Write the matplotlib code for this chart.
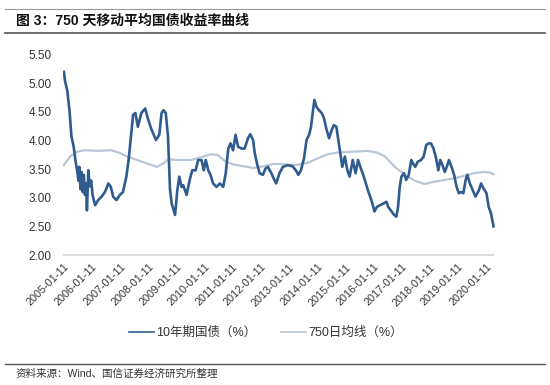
import matplotlib
matplotlib.use("Agg")
import matplotlib.pyplot as plt
from matplotlib.lines import Line2D

plt.rcParams['font.family'] = ['Liberation Sans', 'Noto Sans CJK SC', 'DejaVu Sans']

title = "图 3：750 天移动平均国债收益率曲线"
source = "资料来源：Wind、国信证券经济研究所整理"
series_names = ["10年期国债（%）", "750日均线（%）"]
tick_years = list(range(2005, 2021))
tick_labels = [f"{y}-01-11" for y in tick_years]

# 10-year yield (decimal year, %)
y10_t = [2005.03, 2005.08, 2005.15, 2005.23, 2005.30, 2005.38, 2005.44, 2005.50,
         2005.55, 2005.58, 2005.62, 2005.66, 2005.70, 2005.74, 2005.78, 2005.82,
         2005.85, 2005.90, 2005.95, 2006.00, 2006.05, 2006.14, 2006.25, 2006.37,
         2006.49, 2006.61, 2006.70, 2006.78, 2006.90, 2007.02, 2007.13, 2007.25,
         2007.33, 2007.40, 2007.49, 2007.57, 2007.66, 2007.78, 2007.92, 2008.01,
         2008.13, 2008.30, 2008.42, 2008.50, 2008.57, 2008.65, 2008.73, 2008.76,
         2008.80, 2008.86, 2008.98, 2009.06, 2009.13, 2009.21, 2009.27, 2009.39,
         2009.50, 2009.59, 2009.71, 2009.80, 2009.92, 2010.00, 2010.07, 2010.16,
         2010.24, 2010.33, 2010.45, 2010.57, 2010.69, 2010.78, 2010.87, 2010.95,
         2011.04, 2011.13, 2011.22, 2011.34, 2011.45, 2011.57, 2011.65, 2011.75,
         2011.81, 2011.89, 2011.98, 2012.10, 2012.19, 2012.28, 2012.40, 2012.48,
         2012.57, 2012.69, 2012.81, 2012.98, 2013.15, 2013.27, 2013.36, 2013.45,
         2013.56, 2013.65, 2013.74, 2013.81, 2013.88, 2013.93, 2014.00, 2014.09,
         2014.19, 2014.27, 2014.35, 2014.45, 2014.54, 2014.62, 2014.71, 2014.78,
         2014.86, 2014.92, 2015.01, 2015.10, 2015.18, 2015.29, 2015.39, 2015.48,
         2015.56, 2015.64, 2015.74, 2015.83, 2015.91, 2015.99, 2016.06, 2016.15,
         2016.26, 2016.38, 2016.49, 2016.55, 2016.67, 2016.76, 2016.84, 2016.90,
         2016.96, 2017.02, 2017.11, 2017.19, 2017.28, 2017.37, 2017.43, 2017.51,
         2017.60, 2017.72, 2017.81, 2017.90, 2017.98, 2018.07, 2018.16, 2018.25,
         2018.33, 2018.40, 2018.48, 2018.56, 2018.63, 2018.71, 2018.80, 2018.89,
         2018.98, 2019.06, 2019.14, 2019.22, 2019.30, 2019.36, 2019.45, 2019.53,
         2019.65, 2019.77, 2019.85, 2019.94, 2020.04, 2020.12, 2020.20, 2020.29]
y10_v = [5.20, 5.02, 4.88, 4.53, 4.07, 3.89, 3.66, 3.48,
         3.30, 3.54, 3.15, 3.45, 3.10, 3.40, 3.05, 3.25,
         2.78, 3.48, 3.20, 3.30, 3.05, 2.87, 2.96, 3.02,
         3.10, 3.25, 3.19, 3.02, 2.96, 3.05, 3.10, 3.37,
         3.66, 4.01, 4.45, 4.48, 4.24, 4.48, 4.56, 4.39,
         4.21, 4.01, 4.10, 4.48, 4.53, 4.48, 4.07, 3.66,
         3.15, 2.90, 2.70, 3.13, 3.37, 3.19, 3.22, 3.05,
         3.31, 3.48, 3.48, 3.66, 3.66, 3.48, 3.66, 3.48,
         3.40, 3.25, 3.19, 3.25, 3.19, 3.43, 3.86, 3.95,
         3.83, 4.10, 3.89, 3.86, 3.86, 4.04, 4.11, 4.01,
         3.78, 3.60, 3.43, 3.40, 3.51, 3.54, 3.43, 3.34,
         3.25, 3.43, 3.54, 3.57, 3.55, 3.48, 3.40, 3.48,
         3.69, 4.01, 4.10, 4.24, 4.53, 4.71, 4.59, 4.53,
         4.48, 4.39, 4.21, 4.04, 4.18, 4.27, 4.24, 4.01,
         3.75, 3.54, 3.72, 3.48, 3.37, 3.66, 3.43, 3.66,
         3.54, 3.43, 3.28, 3.13, 3.02, 2.90, 2.76, 2.84,
         2.87, 2.90, 2.93, 2.84, 2.76, 2.70, 2.67, 2.84,
         3.19, 3.37, 3.43, 3.31, 3.40, 3.66, 3.60, 3.54,
         3.63, 3.66, 3.72, 3.92, 3.95, 3.95, 3.86, 3.69,
         3.48, 3.66, 3.57, 3.45, 3.54, 3.66, 3.54, 3.40,
         3.19, 3.08, 3.10, 3.08, 3.31, 3.40, 3.25, 3.16,
         3.02, 3.13, 3.25, 3.16, 3.08, 2.84, 2.73, 2.50]

# 750-day moving average (decimal year, %)
ma_t = [2005.03, 2005.25, 2005.48, 2005.77, 2006.24, 2006.70, 2006.99, 2007.28,
        2007.63, 2007.98, 2008.33, 2008.56, 2008.74, 2009.09, 2009.55, 2009.90,
        2010.25, 2010.49, 2010.78, 2011.07, 2011.42, 2011.77, 2012.12, 2012.47,
        2012.76, 2013.23, 2013.70, 2014.05, 2014.40, 2014.75, 2015.10, 2015.50,
        2015.80, 2016.15, 2016.44, 2016.79, 2017.14, 2017.49, 2017.84, 2018.19,
        2018.54, 2018.89, 2019.24, 2019.59, 2019.94, 2020.17, 2020.29]
ma_v = [3.57, 3.72, 3.80, 3.83, 3.82, 3.83, 3.79, 3.72,
        3.66, 3.60, 3.54, 3.60, 3.67, 3.66, 3.66, 3.71,
        3.76, 3.75, 3.63, 3.58, 3.55, 3.52, 3.55, 3.59,
        3.59, 3.57, 3.61, 3.69, 3.76, 3.79, 3.80, 3.81,
        3.82, 3.79, 3.72, 3.54, 3.40, 3.30, 3.24, 3.28,
        3.31, 3.34, 3.38, 3.43, 3.45, 3.44, 3.41]

fig = plt.figure(figsize=(5.5, 3.85), dpi=100)
W, H = 550, 385
ax = fig.add_axes([63 / W, 1 - 255 / H, (498 - 63) / W, (255 - 54.7) / H])

ax.plot(ma_t, ma_v, color="#b9c6d6", lw=1.6, zorder=2)
ax.plot(y10_t, y10_v, color="#2f5b8e", lw=1.9, zorder=3)

ax.set_ylim(2.0, 5.5)
ax.set_yticks([2.0, 2.5, 3.0, 3.5, 4.0, 4.5, 5.0, 5.5])
ax.set_yticklabels([f"{v:.2f}" for v in ax.get_yticks()], fontsize=8.5, color="#333333")
ax.set_xlim(2005.0, 2020.45)
ax.set_xticks([y + 0.03 for y in tick_years])
ax.set_xticklabels(tick_labels, rotation=45, ha="right", rotation_mode="anchor",
                   fontsize=7.8, color="#333333")
ax.tick_params(length=0, pad=5)
ax.tick_params(axis="y", pad=8)
for s in ["top", "right", "left"]:
    ax.spines[s].set_visible(False)
ax.spines["bottom"].set_color("#dcdcdc")
ax.spines["bottom"].set_linewidth(1.5)
ax.spines["bottom"].set_bounds(2005.03, 2020.29)

handles = [Line2D([], [], color="#2f5b8e", lw=1.2), Line2D([], [], color="#b9c6d6", lw=1.2)]
fig.legend(handles, series_names, loc="center", bbox_to_anchor=(266 / W, 1 - 333 / H),
           ncol=2, frameon=False, fontsize=9, handlelength=2.0, handletextpad=0.15,
           columnspacing=2.0, labelcolor="#333333")

fig.text(16 / W, 1 - 21 / H, title, fontsize=10, fontweight="bold", va="center", ha="left",
         color="#111111")
fig.add_artist(Line2D([5 / W, 545 / W], [1 - 9 / H, 1 - 9 / H], color="#999999", lw=0.8))
fig.add_artist(Line2D([5 / W, 545 / W], [1 - 33 / H, 1 - 33 / H], color="#555555", lw=1.2))
fig.add_artist(Line2D([5 / W, 545 / W], [1 - 364 / H, 1 - 364 / H], color="#555555", lw=1.0))
fig.text(16 / W, 1 - 374 / H, source, fontsize=7.6, va="center", ha="left", color="#333333")

fig.savefig("out.png", dpi=100)
